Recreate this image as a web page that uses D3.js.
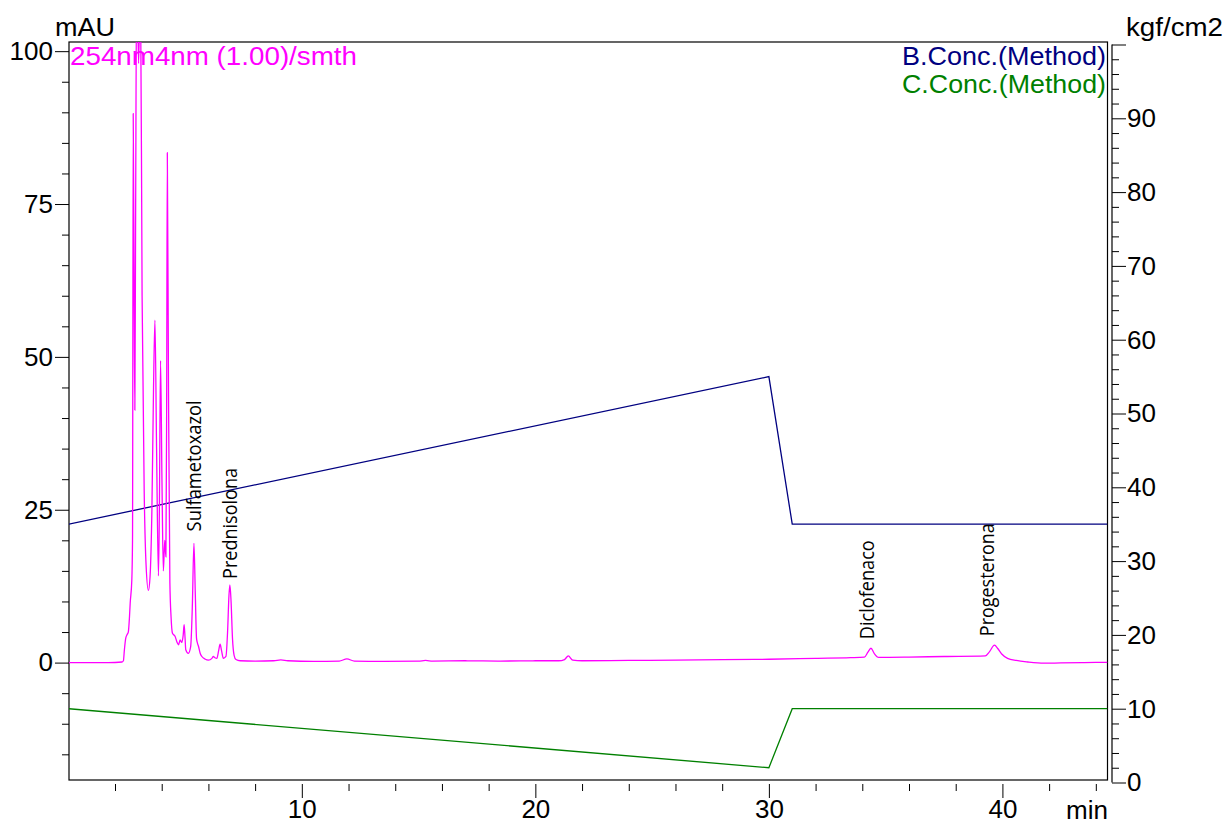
<!DOCTYPE html>
<html>
<head>
<meta charset="utf-8">
<script src="https://cdn.jsdelivr.net/npm/d3@7"></script>
<style>
  html, body { margin: 0; padding: 0; background: #fff; }
  svg { display: block; }
  .ax text { font-family: "Liberation Sans", Arial, sans-serif; font-size: 26px; fill: #000; }
  .ax line { stroke: #000; stroke-width: 1; }
  .ax path { display: none; }
</style>
</head>
<body>
<svg id="chart" width="1232" height="825"></svg>
<script>
// Chromatogram trace at 254 nm: retention time (min) and absorbance (mAU)
const traceTime = [
  0, 1.0, 2.0, 2.30, 2.36, 2.40, 2.46, 2.52, 2.57, 2.62, 2.65, 2.72, 2.75, 2.78, 2.82, 2.85, 2.88,
  2.93, 3.01, 3.09, 3.16, 3.25, 3.33, 3.43, 3.50, 3.58, 3.65, 3.71, 3.78, 3.86, 3.90, 3.95, 4.01,
  4.07, 4.13, 4.18, 4.21, 4.24, 4.29, 4.35, 4.40, 4.46, 4.57, 4.66, 4.72, 4.79, 4.86, 4.92, 4.96,
  5.00, 5.03, 5.14, 5.24, 5.31, 5.38, 5.44, 5.49, 5.53, 5.58, 5.65, 5.72, 5.85, 6.00, 6.15, 6.21,
  6.28, 6.36, 6.44, 6.50, 6.56, 6.64, 6.75, 6.82, 6.88, 6.92, 6.97, 7.03, 7.10, 7.18, 7.36, 8.0,
  8.8, 9.1, 9.4, 10.5, 11.6, 11.93, 12.25, 13.5, 15.0, 15.3, 15.6, 17.0, 18.5, 20.0, 21.0, 21.25,
  21.41, 21.6, 22.0, 24.0, 26.0, 28.0, 30.0, 32.0, 33.5, 34.09, 34.24, 34.37, 34.51, 34.7, 36.0,
  37.5, 39.27, 39.45, 39.66, 39.8, 39.97, 40.22, 40.6, 41.09, 41.78, 42.5, 43.5, 44.5
];
const traceMAU = [
  0.0, 0.0, 0.02, 0.1, 0.3, 2.0, 4.0, 4.6, 5.0, 7.5, 9.7, 13.5, 20, 89.8, 60, 41.3, 70,
  114, 98, 112, 60, 28, 16, 11.8, 14, 25, 45, 56, 35, 14.2, 25, 49.4, 30,
  15, 20, 17.3, 40, 83.4, 45, 13, 7.5, 4.8, 4.3, 3.3, 2.9, 3.7, 3.3, 4.5, 6.2,
  4.0, 2.1, 1.5, 2.6, 9, 19.5, 11, 4, 3.2, 2.6, 1.5, 1.0, 0.6, 0.4, 0.7, 1.0,
  0.8, 0.7, 2.0, 3.0, 2.0, 0.7, 1.0, 5, 11, 12.7, 10, 4, 1.2, 0.5, 0.3, 0.25,
  0.3, 0.45, 0.3, 0.2, 0.25, 0.6, 0.25, 0.2, 0.25, 0.35, 0.25, 0.3, 0.25, 0.3, 0.3, 0.5,
  1.1, 0.4, 0.3, 0.35, 0.4, 0.5, 0.55, 0.7, 0.8, 0.9, 1.7, 2.35, 1.5, 0.85, 0.9,
  1.0, 1.1, 1.8, 2.85, 2.3, 1.4, 0.7, 0.35, 0.1, -0.1, -0.05, 0.0, 0.05
];

// Gradient program (right axis)
const gradTime = [0, 30, 31, 44.5];
const bConc = [35, 55, 35, 35];
const cConc = [10, 2, 10, 10];

// Identified peaks
const peakNames = ["Sulfametoxazol", "Prednisolona", "Diclofenaco", "Progesterona"];
const peakTimes = [5.38, 6.92, 34.37, 39.66];

// Axis ticks
const timeMajor = [10, 20, 30, 40];
const timeMinor = [2, 4, 6, 8, 12, 14, 16, 18, 22, 24, 26, 28, 32, 34, 36, 38, 42, 44];
const mauMajor = [0, 25, 50, 75, 100];
const mauMinor = [-15, -10, -5, 5, 10, 15, 20, 30, 35, 40, 45, 55, 60, 65, 70, 80, 85, 90, 95];
const presMajor = [0, 10, 20, 30, 40, 50, 60, 70, 80, 90, 100];
const presLabels = ["0", "10", "20", "30", "40", "50", "60", "70", "80", "90", ""];
const presMinor = d3.range(2, 100, 2).filter(v => v % 10 !== 0);

const svg = d3.select("#chart");
const L = 69, R = 1107.5, T = 42, B = 780;

const x = d3.scaleLinear().domain([0.03, 44.5]).range([L, R]);
const yL = d3.scaleLinear().domain([-19.2, 101.5]).range([B, T]);
const yR = d3.scaleLinear().domain([0, 100]).range([782.5, 44.5]);

svg.append("defs").append("clipPath").attr("id", "plotClip")
  .append("rect").attr("x", L).attr("y", T).attr("width", R - L).attr("height", B - T);

// Bottom axis: minor and major ticks sit a few px below the frame
svg.append("g").attr("class", "ax").attr("transform", `translate(0,${B + 4})`)
  .call(d3.axisBottom(x).tickValues(timeMinor).tickSize(7).tickSizeOuter(0).tickFormat(""));
svg.append("g").attr("class", "ax").attr("transform", `translate(0,${B + 4})`)
  .call(d3.axisBottom(x).tickValues(timeMajor).tickSize(14).tickSizeOuter(0).tickPadding(2).tickFormat(d3.format("d")));

// Left axis
svg.append("g").attr("class", "ax").attr("transform", `translate(${L},0)`)
  .call(d3.axisLeft(yL).tickValues(mauMinor).tickSize(7).tickSizeOuter(0).tickFormat(""));
svg.append("g").attr("class", "ax").attr("transform", `translate(${L},0)`)
  .call(d3.axisLeft(yL).tickValues(mauMajor).tickSize(14).tickSizeOuter(0).tickPadding(2).tickFormat(d3.format("d")));

// Right axis (own line, slightly offset from the frame)
const RA = 1112;
svg.append("line").attr("x1", RA).attr("x2", RA).attr("y1", yR(100)).attr("y2", yR(0))
  .attr("stroke", "#000").attr("stroke-width", 1.2);
svg.append("g").attr("class", "ax").attr("transform", `translate(${RA},0)`)
  .call(d3.axisRight(yR).tickValues(presMinor).tickSize(7).tickSizeOuter(0).tickFormat(""));
svg.append("g").attr("class", "ax").attr("transform", `translate(${RA},0)`)
  .call(d3.axisRight(yR).tickValues(presMajor).tickSize(14).tickSizeOuter(0).tickPadding(1)
    .tickFormat((d, i) => presLabels[i]));

// Frame
svg.append("rect").attr("x", L).attr("y", T).attr("width", R - L).attr("height", B - T)
  .attr("fill", "none").attr("stroke", "#000").attr("stroke-width", 1.2);

const plot = svg.append("g").attr("clip-path", "url(#plotClip)");

// Gradient lines
const gradLine = d3.line().x(d => x(d[0])).y(d => yR(d[1]));
plot.append("path").datum(gradTime.map((t, i) => [t, bConc[i]]))
  .attr("d", gradLine).attr("fill", "none").attr("stroke", "#000080").attr("stroke-width", 1.3);
plot.append("path").datum(gradTime.map((t, i) => [t, cConc[i]]))
  .attr("d", gradLine).attr("fill", "none").attr("stroke", "#008000").attr("stroke-width", 1.3);

// Chromatogram
const trace = traceTime.map((t, i) => [t, traceMAU[i]]);
plot.append("path").datum(trace)
  .attr("d", d3.line().x(d => x(d[0])).y(d => yL(d[1])).curve(d3.curveMonotoneX))
  .attr("fill", "none").attr("stroke", "#ff00ff").attr("stroke-width", 1.3);

// Peak labels (rotated, reading upward)
const labelFont = '"Open Sans", "Noto Sans", sans-serif';
const labelLen = [131, 111, 99, 113];
const labelGap = [12, 6, 9, 9];
const labelShift = [7, 7, 3, 0];
peakNames.forEach((name, i) => {
  const t = peakTimes[i];
  const v = traceMAU[traceTime.indexOf(t)];
  const bx = x(t) + labelShift[i];
  const by = yL(v) - labelGap[i];
  svg.append("text")
    .attr("transform", `translate(${bx},${by}) rotate(-90)`)
    .attr("font-family", labelFont).attr("font-size", 20).attr("fill", "#000")
    .attr("textLength", labelLen[i]).attr("lengthAdjust", "spacingAndGlyphs")
    .text(name);
});

// Titles and legend
const sans = '"Liberation Sans", Arial, sans-serif';
svg.append("text").attr("x", 55).attr("y", 36).attr("font-family", sans).attr("font-size", 26)
  .attr("textLength", 60).attr("lengthAdjust", "spacingAndGlyphs").text("mAU");
svg.append("text").attr("x", 1126).attr("y", 36).attr("font-family", sans).attr("font-size", 26)
  .attr("textLength", 97).attr("lengthAdjust", "spacingAndGlyphs").text("kgf/cm2");
svg.append("text").attr("x", 1066).attr("y", 819).attr("font-family", sans).attr("font-size", 26)
  .attr("textLength", 42).attr("lengthAdjust", "spacingAndGlyphs").text("min");
svg.append("text").attr("x", 70).attr("y", 65).attr("font-family", sans).attr("font-size", 25)
  .attr("fill", "#ff00ff").attr("textLength", 287).attr("lengthAdjust", "spacingAndGlyphs")
  .text("254nm4nm (1.00)/smth");
svg.append("text").attr("x", 902).attr("y", 65).attr("font-family", sans).attr("font-size", 25)
  .attr("fill", "#000080").attr("textLength", 204).attr("lengthAdjust", "spacingAndGlyphs")
  .text("B.Conc.(Method)");
svg.append("text").attr("x", 902).attr("y", 93).attr("font-family", sans).attr("font-size", 25)
  .attr("fill", "#008000").attr("textLength", 204).attr("lengthAdjust", "spacingAndGlyphs")
  .text("C.Conc.(Method)");
</script>
</body>
</html>
